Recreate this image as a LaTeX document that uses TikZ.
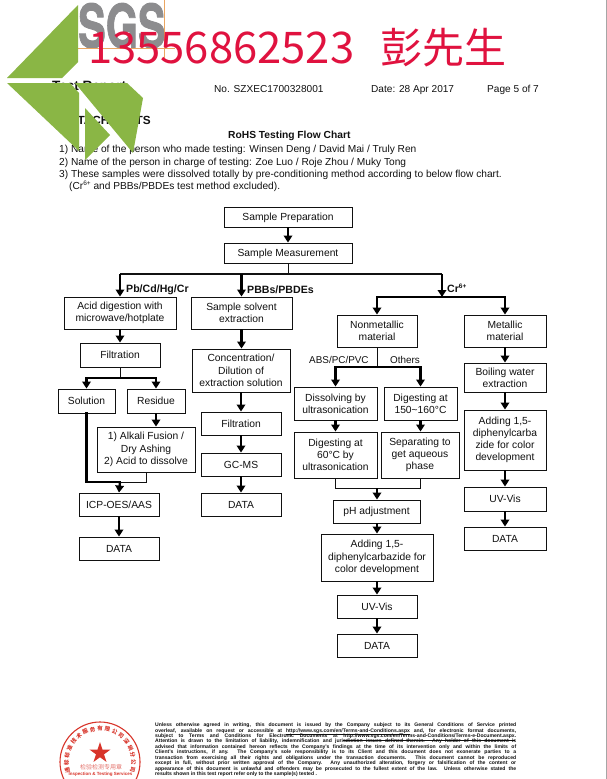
\documentclass[tikz,border=0pt]{standalone}
\usepackage{fontspec}
\usepackage{graphicx}
\usetikzlibrary{arrows.meta,shapes.geometric}
\setmainfont{Liberation Sans}
\newfontfamily\cjk{Noto Sans CJK SC}
\newfontfamily\logofont[UprightFont=* Bold,FakeBold=1.6]{TeX Gyre Heros}
\definecolor{leaf}{HTML}{8AB645}
\definecolor{crim}{HTML}{E0123F}
\definecolor{logo}{HTML}{8C8C8E}
\definecolor{sealred}{HTML}{D8342A}
\definecolor{ink}{HTML}{111111}
\tikzset{
  flowbox/.style={draw=ink,line width=0.9pt,fill=white,inner sep=0pt,align=center,
    font=\fontsize{10.3}{12.2}\selectfont,text=ink},
  arr/.style={draw=black,line width=2.3pt,-{Triangle[length=7pt,width=8.5pt]}},
  thick line/.style={draw=black,line width=2.3pt},
  thin line/.style={draw=ink,line width=0.9pt},
  head/.style={inner sep=0pt,anchor=base west,text=ink,font=\fontsize{10.1}{11}\selectfont},
  bodytext/.style={inner sep=0pt,anchor=base west,text=ink,font=\fontsize{10.17}{11}\selectfont},
  flowlabel/.style={inner sep=0pt,anchor=base west,text=ink,font=\fontsize{10.6}{12}\selectfont\bfseries},
  sortlabel/.style={inner sep=0pt,anchor=base west,text=ink,font=\fontsize{9.9}{12}\selectfont},
  green/.style={fill=leaf,draw=none},
  sealch/.style={inner sep=0pt,text=sealred,font=\cjk\fontsize{5.5}{6}\selectfont\bfseries},
  footline/.style={inner sep=0pt,anchor=base west,text=ink,font=\fontsize{5.1}{5.44}\selectfont\bfseries}
}
\newcommand{\bx}[6]{%
  \pgfmathsetmacro{\cxx}{(#2+#4)/2}\pgfmathsetmacro{\cyy}{(#3+#5)/2}%
  \pgfmathsetmacro{\wdd}{#4-#2}\pgfmathsetmacro{\htt}{#5-#3}%
  \node[flowbox,minimum width=\wdd pt,minimum height=\htt pt] (#1) at (\cxx,\cyy) {#6};}
\newcommand{\fl}[2]{%
  \pgfmathsetmacro{\fyy}{726.6+(#1-1)*5.44}%
  \node[footline] (foot#1) at (155,\fyy) {\makebox[361pt][s]{#2}};}
\begin{document}
\begin{tikzpicture}[x=1pt,y=-1pt]
\useasboundingbox (0,0) rectangle (607,779);
\fill[white] (0,0) rectangle (607,779);
\draw[gray!70,line width=0.8pt] (606.3,0) -- (606.3,779);
% logo
\node[inner sep=0pt,text=logo,anchor=base west] (sgs) at (78,47.5)
  {\scalebox{0.69}[1]{\logofont\fontsize{60}{60}\selectfont SGS}};
\draw[orange!55!brown!70,line width=0.7pt] (78,48) -- (175,48);
\draw[orange!55!brown!70,line width=0.7pt] (164,0) -- (164,58);
% header text
\node[inner sep=0pt,anchor=base west,text=ink,font=\fontsize{13.5}{15}\selectfont\bfseries] (tr) at (52,90.5) {Test Report};
\node[head] (no) at (214,92) {No. SZXEC1700328001};
\node[head] (date) at (371,92) {Date: 28 Apr 2017};
\node[head] (page) at (487,92) {Page 5 of 7};
\node[inner sep=0pt,anchor=base east,text=ink,font=\fontsize{11.8}{14}\selectfont\bfseries] (att) at (151,124) {ATTACHMENTS};
\node[inner sep=0pt,anchor=base west,text=ink,font=\fontsize{10.25}{11}\selectfont\bfseries] (title) at (228,138) {RoHS Testing Flow Chart};
\node[bodytext] (l1) at (59,152) {1) Name of the person who made testing: Winsen Deng / David Mai / Truly Ren};
\node[bodytext] (l2) at (59,165) {2) Name of the person in charge of testing: Zoe Luo / Roje Zhou / Muky Tong};
\node[bodytext] (l3) at (59,177) {3) These samples were dissolved totally by pre-conditioning method according to below flow chart.};
\node[bodytext] (l4) at (69,189) {(Cr\raisebox{3.5pt}{\fontsize{6.5}{7}\selectfont 6+} and PBBs/PBDEs test method excluded).};
% flow boxes
\bx{prep}{224}{207}{352}{227}{\rule{0pt}{10pt}Sample Preparation}
\bx{meas}{224}{243}{352}{263}{\rule{0pt}{10pt}Sample Measurement}
\bx{acid}{64}{297}{176}{329}{Acid digestion with\\microwave/hotplate}
\bx{solv}{191}{297}{292}{329}{Sample solvent\\extraction}
\bx{filt}{80}{343}{160}{367}{Filtration}
\bx{conc}{192}{349}{290}{392}{Concentration/\\Dilution of\\extraction solution}
\bx{soln}{58}{389}{115}{413}{Solution}
\bx{resi}{127}{389}{185}{413}{Residue}
\bx{alka}{97}{427}{195}{472}{1) Alkali Fusion /\\Dry Ashing\\2) Acid to dissolve}
\bx{icp}{79}{493}{159}{516}{ICP-OES/AAS}
\bx{dataa}{79}{537}{159}{560}{DATA}
\bx{filtb}{201}{412}{281}{435}{Filtration}
\bx{gc}{201}{453}{281}{476}{GC-MS}
\bx{datab}{201}{493}{281}{516}{DATA}
\bx{nonm}{337}{315}{417}{347}{Nonmetallic\\material}
\bx{meta}{464}{315}{546}{347}{Metallic\\material}
\bx{boil}{464}{363}{546}{392}{Boiling water\\extraction}
\bx{addm}{464}{410}{546}{470}{Adding 1,5-\\diphenylcarba\\zide for color\\development}
\bx{uvm}{464}{487}{546}{511}{UV-Vis}
\bx{datam}{464}{527}{546}{550}{DATA}
\bx{diss}{294}{387}{377}{420}{Dissolving by\\ultrasonication}
\bx{dig}{384}{387}{457}{420}{Digesting at\\150\textasciitilde160°C}
\bx{dsix}{294}{432}{377}{478}{Digesting at\\60°C by\\ultrasonication}
\bx{sepa}{381}{432}{459}{478}{Separating to\\get aqueous\\phase}
\bx{ph}{333}{500}{420}{523}{pH adjustment}
\bx{addn}{321}{534}{433}{581}{Adding 1,5-\\diphenylcarbazide for\\color development}
\bx{uvn}{337}{595}{417}{618}{UV-Vis}
\bx{datan}{337}{634}{417}{657}{DATA}
% junctions
\coordinate (jtop) at (288,274);
\coordinate (jcr) at (442,274);
\coordinate (jcrd) at (442,297);
\coordinate (jfil) at (120,378);
\coordinate (jsol) at (120,482);
\coordinate (jnm) at (377,367);
\coordinate (jmrg) at (377,488);
% connectors
\draw[arr] (prep.south) -- (meas.north);
\draw[thin line] (meas.south) -- (jtop);
\draw[thin line,line width=1.3pt] (acid.north |- jtop) -- (jcr);
\draw[arr] (acid.north |- jtop) -- (acid.north);
\draw[arr] (solv.north |- jtop) -- (solv.north);
\draw[arr] (jcr) -- (jcrd);
\draw[thick line,line cap=rect] (nonm.north |- jcrd) -- (meta.north |- jcrd);
\draw[arr] (nonm.north |- jcrd) -- (nonm.north);
\draw[arr] (meta.north |- jcrd) -- (meta.north);
\draw[arr] (acid.south) -- (filt.north);
\draw[thin line] (filt.south) -- (jfil);
\draw[thick line,line cap=rect] (soln.north |- jfil) -- (resi.north |- jfil);
\draw[arr] (soln.north |- jfil) -- (soln.north);
\draw[arr] (resi.north |- jfil) -- (resi.north);
\draw[arr] (resi.south) -- (resi.south |- alka.north);
\draw[thick line,line cap=rect] (soln.south) |- (jsol);
\draw[thin line] (alka.south) |- (jsol);
\draw[arr] (jsol) -- (icp.north);
\draw[arr] (icp.south) -- (dataa.north);
\draw[arr] (solv.south) -- (solv.south |- conc.north);
\draw[arr] (conc.south) -- (conc.south |- filtb.north);
\draw[arr] (filtb.south) -- (gc.north);
\draw[arr] (gc.south) -- (datab.north);
\draw[arr] (meta.south) -- (boil.north);
\draw[arr] (boil.south) -- (addm.north);
\draw[arr] (addm.south) -- (uvm.north);
\draw[arr] (uvm.south) -- (datam.north);
\draw[thin line] (nonm.south) -- (jnm);
\draw[thick line,line cap=rect] (diss.north |- jnm) -- (dig.north |- jnm);
\draw[arr] (diss.north |- jnm) -- (diss.north);
\draw[arr] (dig.north |- jnm) -- (dig.north);
\draw[arr] (diss.south) -- (dsix.north);
\draw[arr] (dig.south) -- (dig.south |- sepa.north);
\draw[thin line] (dsix.south) |- (jmrg);
\draw[thin line] (dig.south |- sepa.south) |- (jmrg);
\draw[arr] (jmrg) -- (jmrg |- ph.north);
\draw[arr] (jmrg |- ph.south) -- (jmrg |- addn.north);
\draw[arr] (addn.south) -- (uvn.north);
\draw[arr] (uvn.south) -- (datan.north);
% flow labels
\node[flowlabel] (pbl) at (126,292) {Pb/Cd/Hg/Cr};
\node[flowlabel] (pbbl) at (247,293) {PBBs/PBDEs};
\node[flowlabel] (crl) at (447,292) {Cr\raisebox{3.5pt}{\fontsize{6.5}{7}\selectfont 6+}};
\node[sortlabel] (absl) at (309,363) {ABS/PC/PVC};
\node[sortlabel] (othl) at (390,363) {Others};
% green shapes over the text
\fill[green] (78,5) -- (78,62) -- (62,78) -- (7,78) -- cycle;
\fill[green] (7,83) -- (70,83) -- (79,93) -- (79,151) -- cycle;
\fill[green] (75,83) -- (127,83) -- (143,98) -- (133,153) -- cycle;
\fill[green] (85,108) -- (110,135) -- (85,160) -- cycle;
% red overlay
\node[inner sep=0pt,anchor=base west,text=crim] (phone) at (88,63) {\cjk\fontsize{43.6}{44}\selectfont 13556862523\hspace{26pt}\fontsize{42}{44}\selectfont 彭先生};
% seal
\draw[sealred,line width=1.1pt] (100,762) circle (40);
\node[star,star points=5,star point ratio=2.6,fill=sealred,inner sep=0pt,minimum size=22pt] (star) at (100,753) {};
\foreach \ch [count=\i] in {通,标,标,准,技,术,服,务,有,限,公,司,深,圳,分,公,司}{
  \pgfmathsetmacro{\ang}{-104+(\i-1)*(208/16)}
  \node[sealch,rotate=-\ang] at ({100+33.5*sin(\ang)},{762-33.5*cos(\ang)}) {\ch};
}
\node[inner sep=0pt,text=sealred!70,font=\cjk\fontsize{6}{7}\selectfont] (sealcn) at (101,767) {检验检测专用章};
\node[inner sep=0pt,text=sealred,font=\fontsize{4.5}{5}\selectfont\bfseries] (sealen) at (100.5,774.5) {Inspection \& Testing Services};
% footer
\fl{1}{Unless otherwise agreed in writing, this document is issued by the Company subject to its General Conditions of Service printed}
\fl{2}{overleaf, available on request or accessible at \underline{http://www.sgs.com/en/Terms-and-Conditions.aspx} and, for electronic format documents,}
\fl{3}{subject to Terms and Conditions for Electronic Documents at \underline{http://www.sgs.com/en/Terms-and-Conditions/Terms-e-Document.aspx}.}
\fl{4}{Attention is drawn to the limitation of liability, indemnification and jurisdiction issues defined therein. Any holder of this document is}
\fl{5}{advised that information contained hereon reflects the Company's findings at the time of its intervention only and within the limits of}
\fl{6}{Client's instructions, if any. The Company's sole responsibility is to its Client and this document does not exonerate parties to a}
\fl{7}{transaction from exercising all their rights and obligations under the transaction documents. This document cannot be reproduced}
\fl{8}{except in full, without prior written approval of the Company. Any unauthorized alteration, forgery or falsification of the content or}
\fl{9}{appearance of this document is unlawful and offenders may be prosecuted to the fullest extent of the law. Unless otherwise stated the}
\node[footline] (foot10) at (155,775.56) {results shown in this test report refer only to the sample(s) tested .};
\end{tikzpicture}
\end{document}
